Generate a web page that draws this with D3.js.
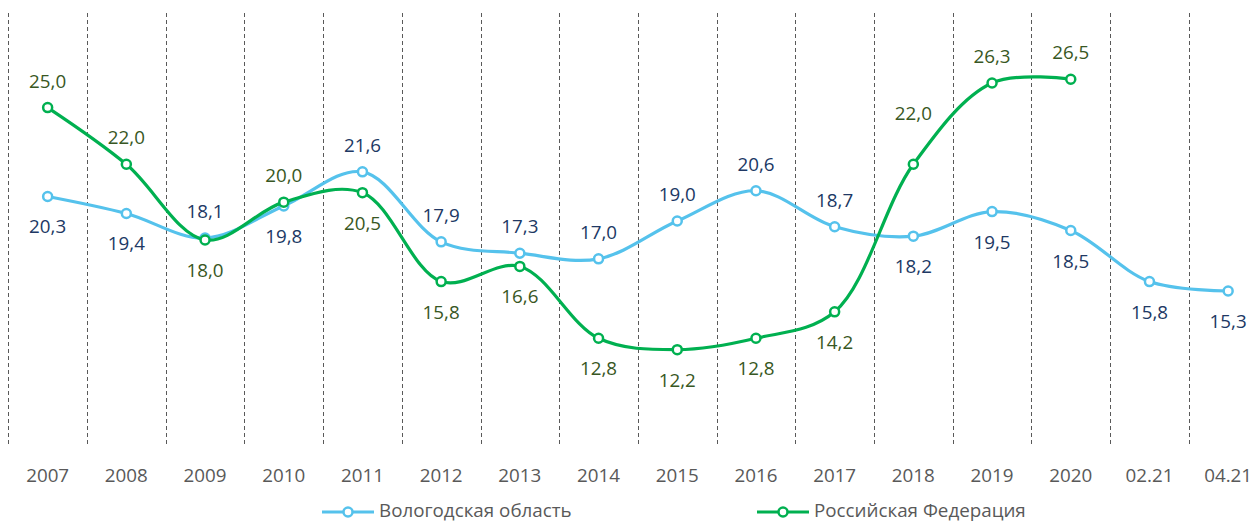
<!DOCTYPE html>
<html lang="ru">
<head>
<meta charset="UTF-8">
<title>Line Chart</title>
<script src="https://d3js.org/d3.v7.min.js"></script>
<style>
  body { margin: 0; background: #fff; }
  svg { display: block; font-family: "Open Sans", sans-serif; }
</style>
</head>
<body>
<svg width="1260" height="524"></svg>
<script>
// chart data
const categories = ["2007", "2008", "2009", "2010", "2011", "2012", "2013", "2014",
                    "2015", "2016", "2017", "2018", "2019", "2020", "02.21", "04.21"];
const vologda = [20.3, 19.4, 18.1, 19.8, 21.6, 17.9, 17.3, 17.0, 19.0, 20.6, 18.7, 18.2, 19.5, 18.5, 15.8, 15.3];
const russia = [25.0, 22.0, 18.0, 20.0, 20.5, 15.8, 16.6, 12.8, 12.2, 12.8, 14.2, 22.0, 26.3, 26.5, null, null];
const seriesNames = ["Вологодская область", "Российская Федерация"];

// where each value label sits relative to its point
const vologdaLabelPos = ["below", "below", "above", "below", "above", "above", "above", "above",
                         "above", "above", "above", "below", "below", "below", "below", "below"];
const russiaLabelPos = ["above", "above", "below", "above", "below", "below", "below", "below",
                        "below", "below", "below", "high", "above", "above"];

const svg = d3.select("svg");
const plotTop = 13, plotBottom = 445;
const fontSize = "18.8px";

const x = d3.scaleBand().domain(categories).range([8.3, 8.3 + 16 * 78.7]);
const y = d3.scaleLinear().domain([7, 30]).range([448, 13]);
const fmt = v => d3.format(".1f")(v).replace(".", ",");

// dashed vertical gridlines on band edges
svg.append("g")
  .selectAll("line")
  .data(categories)
  .enter()
  .append("line")
  .attr("x1", d => Math.round(x(d)) + 0.5)
  .attr("x2", d => Math.round(x(d)) + 0.5)
  .attr("y1", plotTop)
  .attr("y2", plotBottom)
  .attr("stroke", "#595959")
  .attr("stroke-width", 1)
  .attr("stroke-dasharray", "4,3");

// category labels
svg.append("g")
  .selectAll("text")
  .data(categories)
  .enter()
  .append("text")
  .attr("x", d => x(d) + x.bandwidth() / 2)
  .attr("y", 475)
  .attr("text-anchor", "middle")
  .attr("dominant-baseline", "central")
  .style("font-size", fontSize)
  .attr("fill", "#595959")
  .text(d => d);

const cx = i => x(categories[i]) + x.bandwidth() / 2;
const line = d3.line()
  .defined(d => d != null)
  .x((d, i) => cx(i))
  .y(d => y(d))
  .curve(d3.curveCatmullRom.alpha(0.5));

const labelDy = { above: -27, below: 30, high: -51 };

function drawSeries(values, positions, lineColor, labelColor) {
  const g = svg.append("g");
  g.append("path")
    .datum(values)
    .attr("d", line)
    .attr("fill", "none")
    .attr("stroke", lineColor)
    .attr("stroke-width", 3.2);

  const pts = values.map((v, i) => ({ v, i })).filter(d => d.v != null);

  g.selectAll("circle")
    .data(pts)
    .enter()
    .append("circle")
    .attr("cx", d => cx(d.i))
    .attr("cy", d => y(d.v))
    .attr("r", 4.5)
    .attr("fill", "#fff")
    .attr("stroke", lineColor)
    .attr("stroke-width", 2.5);

  g.selectAll("text")
    .data(pts)
    .enter()
    .append("text")
    .attr("x", d => cx(d.i))
    .attr("y", d => y(d.v) + labelDy[positions[d.i]])
    .attr("text-anchor", "middle")
    .attr("dominant-baseline", "central")
    .style("font-size", fontSize)
    .attr("fill", labelColor)
    .text(d => fmt(d.v));
}

drawSeries(vologda, vologdaLabelPos, "#55C2EC", "#203864");
drawSeries(russia, russiaLabelPos, "#00B050", "#385723");

// legend
const legend = [
  { name: seriesNames[0], color: "#55C2EC", x: 322 },
  { name: seriesNames[1], color: "#00B050", x: 757 }
];
const lg = svg.append("g");
legend.forEach(d => {
  lg.append("line")
    .attr("x1", d.x).attr("x2", d.x + 52)
    .attr("y1", 512).attr("y2", 512)
    .attr("stroke", d.color)
    .attr("stroke-width", 3.2);
  lg.append("circle")
    .attr("cx", d.x + 26).attr("cy", 512)
    .attr("r", 4.5)
    .attr("fill", "#fff")
    .attr("stroke", d.color)
    .attr("stroke-width", 2.5);
  lg.append("text")
    .attr("x", d.x + 57)
    .attr("y", 510)
    .attr("dominant-baseline", "central")
    .style("font-size", fontSize)
    .attr("fill", "#595959")
    .text(d.name);
});
</script>
</body>
</html>
